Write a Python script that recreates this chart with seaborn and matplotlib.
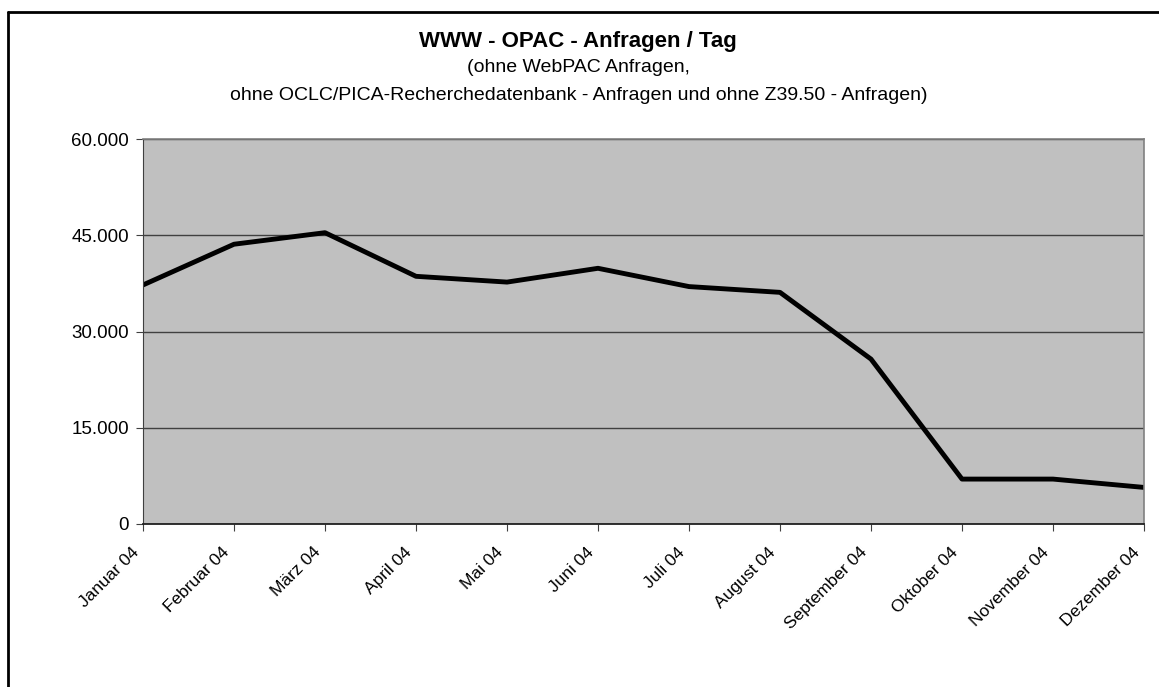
import matplotlib
matplotlib.use("Agg")
import matplotlib.pyplot as plt
import matplotlib.ticker as mticker
import matplotlib.transforms as mtransforms
from matplotlib.lines import Line2D
import seaborn as sns
import pandas as pd

months = ["Januar 04", "Februar 04", "März 04", "April 04", "Mai 04", "Juni 04",
          "Juli 04", "August 04", "September 04", "Oktober 04", "November 04", "Dezember 04"]
anfragen = [37250, 43600, 45400, 38600, 37700, 39850,
            37000, 36100, 25700, 7000, 7000, 5700]

sns.set_style("ticks", {"text.color": "black", "xtick.color": "black", "ytick.color": "black"})
plt.rcParams['font.family'] = ['Liberation Sans', 'DejaVu Sans']

df = pd.DataFrame({"pos": range(len(months)), "monat": months, "anfragen": anfragen})

fig = plt.figure(figsize=(11.59, 6.87), dpi=100)
ax = fig.add_axes([143 / 1159, 1 - 524 / 687, (1144 - 143) / 1159, (524 - 139) / 687])
ax.set_facecolor("#c0c0c0")

sns.lineplot(data=df, x="pos", y="anfragen", color="black", linewidth=3.5, ax=ax)

ax.set_xlim(0, len(months) - 1)
ax.set_ylim(0, 60000)
ax.set_yticks([0, 15000, 30000, 45000, 60000])
ax.yaxis.set_major_formatter(mticker.FuncFormatter(lambda v, p: f"{int(v):,}".replace(",", ".")))
ax.set_xticks(df["pos"])
ax.set_xticklabels(months, rotation=45, ha="right", rotation_mode="anchor", fontsize=12.5)
ax.tick_params(axis="y", labelsize=13.5, length=5, color="#404040", labelcolor="black", pad=5)
ax.tick_params(axis="x", length=5, color="#404040", labelcolor="black", pad=4)
ax.grid(axis="y", color="#404040", linewidth=1)
ax.set_axisbelow(True)
ax.set_xlabel("")
ax.set_ylabel("")

# Beschriftungen etwas nach links unten versetzen
shift = mtransforms.ScaledTranslation(-0.12, -0.08, fig.dpi_scale_trans)
for lbl in ax.get_xticklabels():
    lbl.set_transform(lbl.get_transform() + shift)

for side in ["top", "right"]:
    ax.spines[side].set_color("#808080")
    ax.spines[side].set_linewidth(1.2)
ax.spines["left"].set_color("#404040")
ax.spines["bottom"].set_color("#202020")
ax.spines["bottom"].set_linewidth(1.3)

fig.text(0.499, 1 - 41 / 687, "WWW - OPAC - Anfragen / Tag", ha="center", va="center",
         fontsize=16, fontweight="bold", color="black")
fig.text(0.499, 1 - 68 / 687, "(ohne WebPAC Anfragen,", ha="center", va="center",
         fontsize=14, color="black")
fig.text(0.499, 1 - 95 / 687,
         "ohne OCLC/PICA-Recherchedatenbank - Anfragen und ohne Z39.50 - Anfragen)",
         ha="center", va="center", fontsize=14, color="black")

# Rahmen um das Diagramm
fig.add_artist(Line2D([8 / 1159, 1.0], [1 - 12 / 687, 1 - 12 / 687], color="black", linewidth=2))
fig.add_artist(Line2D([8 / 1159, 8 / 1159], [0.0, 1 - 12 / 687], color="black", linewidth=2))

fig.savefig("out.png", dpi=100)
